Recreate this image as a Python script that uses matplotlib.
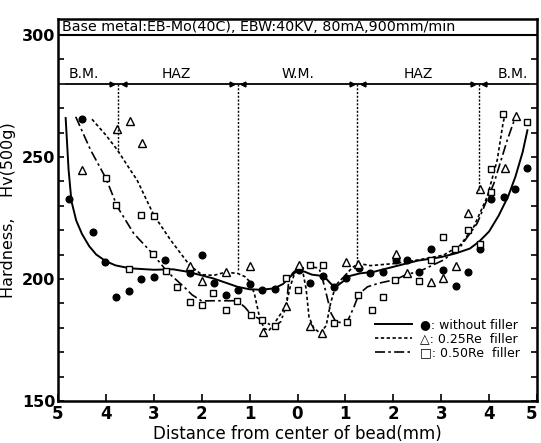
import matplotlib
matplotlib.use("Agg")
import matplotlib.pyplot as plt
from matplotlib.lines import Line2D

# ---------------- data ----------------
# measured points: without filler (filled circles)
wo_x = [-4.76, -4.50, -4.27, -4.02, -3.78, -3.51, -3.26, -3.00, -2.76, -2.25, -2.00,
        -1.75, -1.50, -1.25, -1.00, -0.74, -0.48, 0.03, 0.26, 0.54, 0.77, 1.02, 1.28,
        1.52, 1.79, 2.05, 2.29, 2.53, 2.79, 3.04, 3.30, 3.56, 3.80, 4.05, 4.31, 4.55, 4.80]
wo_y = [232.8, 265.5, 219.1, 206.8, 192.5, 195.1, 200.0, 201.0, 208.0, 202.3, 209.8,
        198.2, 193.6, 195.5, 197.8, 195.3, 196.0, 203.7, 198.2, 201.2, 196.8, 200.5, 204.5,
        202.6, 203.0, 208.0, 208.0, 202.7, 212.2, 203.8, 197.2, 203.0, 212.2, 233.0, 233.7, 236.9, 245.6]

# 0.25Re filler (open triangles)
re25_x = [-4.50, -3.76, -3.50, -3.24, -2.24, -2.00, -1.49, -1.00, -0.73, -0.23, 0.03,
          0.26, 0.52, 1.02, 1.27, 2.05, 2.29, 2.79, 3.04, 3.30, 3.56, 3.80, 4.33, 4.57]
re25_y = [244.7, 261.5, 264.9, 255.6, 205.5, 199.2, 202.7, 205.3, 178.2, 188.9, 205.7,
          180.8, 178.0, 207.1, 206.0, 210.2, 202.4, 198.9, 200.4, 205.2, 226.9, 236.8, 245.6, 266.8]

# 0.50Re filler (open squares)
re50_x = [-4.00, -3.78, -3.26, -3.00, -3.01, -3.52, -2.74, -2.51, -2.25, -2.00, -1.76,
          -1.50, -1.26, -0.98, -0.74, -0.48, -0.23, 0.02, 0.27, 0.53, 0.77, 1.03, 1.27,
          1.55, 1.79, 2.03, 2.53, 2.79, 3.04, 3.28, 3.56, 3.80, 4.05, 4.05, 4.29, 4.80]
re50_y = [241.5, 230.2, 226.2, 226.0, 210.2, 204.1, 203.3, 196.7, 190.4, 189.5, 194.1,
          187.2, 191.1, 185.3, 183.1, 180.6, 200.3, 195.3, 205.6, 205.6, 182.0, 182.5, 193.3,
          187.3, 192.7, 199.5, 199.0, 208.0, 217.3, 212.2, 220.1, 214.3, 235.5, 245.0, 267.6, 264.5]

# hand-drawn trend curves
cwo_x = [-4.84, -4.78, -4.72, -4.62, -4.50, -4.35, -4.20, -4.00, -3.80, -3.50, -3.00, -2.60,
         -2.30, -2.00, -1.75, -1.50, -1.25, -1.00, -0.75, -0.48, -0.30, -0.15, 0.00, 0.15,
         0.30, 0.55, 0.70, 0.80, 0.95, 1.10, 1.30, 1.60, 2.00, 2.50, 3.00, 3.30, 3.60, 3.80,
         4.00, 4.20, 4.40, 4.55, 4.70, 4.80]
cwo_y = [266.0, 245.0, 232.0, 224.0, 218.5, 213.5, 210.0, 207.3, 205.6, 204.4, 203.8, 204.0,
         203.0, 201.5, 200.2, 198.5, 196.8, 195.8, 195.6, 196.2, 198.0, 201.0, 203.5, 203.0,
         201.8, 201.2, 198.0, 196.8, 199.0, 201.3, 202.3, 203.0, 205.0, 207.5, 209.0, 210.5, 212.5, 215.5,
         219.5, 226.0, 234.0, 242.0, 252.0, 261.0]

c25_x = [-4.29, -4.00, -3.76, -3.50, -3.35, -3.00, -2.65, -2.40, -2.25, -2.00, -1.75, -1.50,
         -1.25, -1.10, -1.00, -0.90, -0.80, -0.70, -0.60, -0.46, -0.32, -0.23, -0.15, -0.05,
         0.03, 0.12, 0.18, 0.24, 0.34, 0.48, 0.60, 0.69, 0.80, 1.00, 1.15, 1.28, 1.52, 2.05,
         2.57, 3.05, 3.40, 3.68, 3.96, 4.17, 4.29, 4.34]
c25_y = [265.5, 259.0, 252.9, 245.0, 240.6, 226.2, 216.0, 209.5, 205.6, 201.8, 201.5, 202.8,
         202.3, 201.0, 199.0, 194.0, 185.0, 179.8, 178.8, 182.5, 186.6, 190.0, 197.0, 203.0,
         205.5, 202.0, 196.0, 184.5, 179.8, 177.8, 181.0, 190.0, 197.5, 201.6, 204.8, 206.4, 205.5, 206.4,
         208.0, 209.8, 213.9, 221.4, 233.7, 248.8, 263.8, 268.0]

c50_x = [-4.63, -4.32, -4.00, -3.76, -3.42, -3.03, -2.72, -2.37, -2.20, -2.00, -1.77, -1.50,
         -1.26, -1.10, -0.98, -0.74, -0.49, -0.35, -0.23, -0.18, -0.10, 0.00, 0.27, 0.45,
         0.55, 0.70, 0.80, 0.90, 1.04, 1.18, 1.28, 1.46, 1.70, 2.05, 2.29, 2.53, 3.05, 3.40,
         3.75, 4.10, 4.38, 4.55]
c50_y = [266.5, 252.9, 241.3, 229.6, 218.7, 210.5, 203.0, 196.8, 193.5, 191.0, 191.1, 191.1,
         191.1, 188.5, 185.7, 183.0, 180.5, 182.5, 189.3, 200.0, 202.5, 204.2, 205.0, 204.5,
         198.0, 186.0, 182.5, 182.2, 182.5, 188.6, 193.8, 196.8, 198.3, 199.8, 202.0, 203.0, 207.8, 213.2,
         222.8, 239.2, 257.0, 266.5]

# zone boundaries and where the dotted verticals end
bound_x = [-3.75, -1.25, 1.25, 3.78]
bound_end = [252.0, 203.5, 206.0, 236.5]
zone_labels = ["B.M.", "HAZ", "W.M.", "HAZ", "B.M."]
zone_x = [-4.47, -2.53, 0.0, 2.53, 4.5]

xtick_vals = [-5, -4, -3, -2, -1, 0, 1, 2, 3, 4, 5]
xtick_labels = ["5", "4", "3", "2", "1", "0", "1", "2", "3", "4", "5"]
ytick_vals = [150, 200, 250, 300]

header = "Base metal:EB-Mo(40C), EBW:40KV, 80mA,900mm/min"
legend_labels = ["\u25cf: without filler", "\u25b3: 0.25Re  filler", "\u25a1: 0.50Re  filler"]

# ---------------- figure ----------------
fig = plt.figure(figsize=(5.41, 4.43), dpi=100)
ax = fig.add_axes([58 / 541, 1 - 401 / 443, (537 - 58) / 541, (401 - 19) / 443])
ax.set_xlim(-5, 5)
ax.set_ylim(150, 306.6)

k = "black"
ls25 = (0, (2.0, 1.5))
ls50 = (0, (6, 2, 1.5, 2))

ax.plot(cwo_x, cwo_y, color=k, lw=1.4, ls="-")
ax.plot(c25_x, c25_y, color=k, lw=1.2, ls=ls25)
ax.plot(c50_x, c50_y, color=k, lw=1.2, ls=ls50)

ax.plot(wo_x, wo_y, "o", ms=4.8, mfc=k, mec=k, ls="none")
ax.plot(re25_x, re25_y, "^", ms=5.2, mfc="white", mec=k, mew=1.0, ls="none")
ax.plot(re50_x, re50_y, "s", ms=4.8, mfc="white", mec=k, mew=1.0, ls="none")

# header box
ax.axhline(300, color=k, lw=1.5)
ax.text(-4.92, 303.3, header, fontsize=10.3, va="center", ha="left")

# zone annotation
ax.plot([-4.85, 4.85], [280, 280], color=k, lw=1.3)
for bx, be in zip(bound_x, bound_end):
    ax.plot([bx, bx], [280, be], color=k, lw=1.0, ls=(0, (1.5, 1.2)))
    ax.plot([bx - 0.12], [280], marker=">", ms=3.5, color=k)
    ax.plot([bx + 0.12], [280], marker="<", ms=3.5, color=k)
for zx, zl in zip(zone_x, zone_labels):
    ax.text(zx, 281.2, zl, fontsize=10, ha="center", va="bottom")

# axes styling
ax.set_xticks(xtick_vals)
ax.set_xticklabels(xtick_labels, fontsize=12, fontweight="bold")
ax.get_xticklabels()[-1].set_ha("right")
ax.set_yticks(ytick_vals)
ax.set_yticklabels([str(v) for v in ytick_vals], fontsize=11.5, fontweight="bold")
ax.set_yticks(range(160, 300, 10), minor=True)
ax.tick_params(axis="both", which="both", direction="in", width=1.2)
ax.tick_params(axis="y", which="both", right=True, length=4, pad=2)
ax.tick_params(axis="x", which="major", length=5, pad=3)
for s in ax.spines.values():
    s.set_linewidth(1.8)

ax.set_xlabel("Distance from center of bead(mm)", fontsize=12, labelpad=1)
ax.set_ylabel("Hardness,    Hv(500g)", fontsize=11.5)
ax.yaxis.set_label_coords(-0.088, 0.5)

handles = [Line2D([], [], color=k, lw=1.4, ls="-"),
           Line2D([], [], color=k, lw=1.2, ls=ls25),
           Line2D([], [], color=k, lw=1.2, ls=ls50)]
ax.legend(handles, legend_labels, loc="upper left", bbox_to_anchor=(0.643, 0.24),
          frameon=False, fontsize=9, handlelength=3.0, handletextpad=0.6,
          labelspacing=0.08, borderpad=0.2)

fig.savefig("out.png", dpi=100)
